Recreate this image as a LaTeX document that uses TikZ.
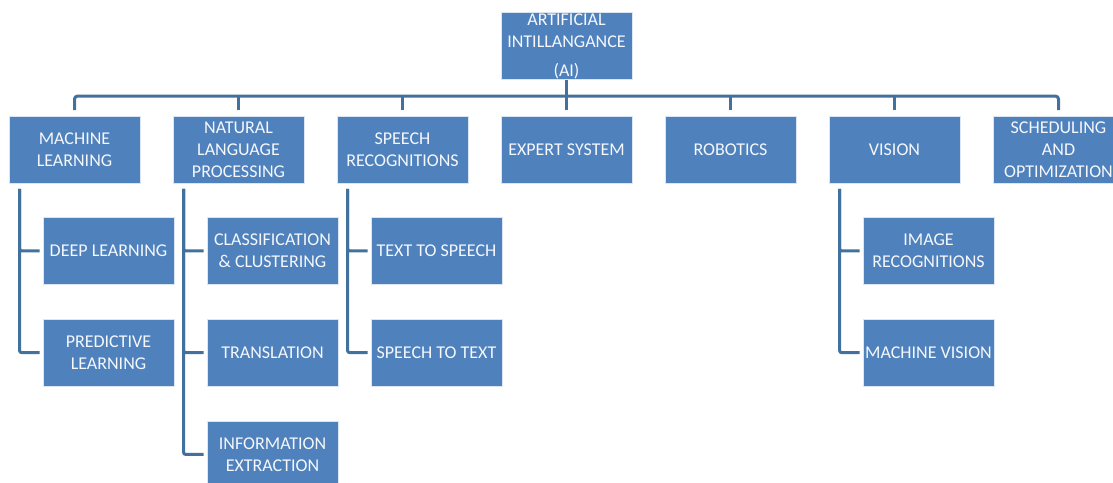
\documentclass[tikz,border=0pt]{standalone}
\usepackage{fontspec}
\setmainfont{Carlito}
\usetikzlibrary{positioning}
\definecolor{boxblue}{HTML}{4F81BD}
\definecolor{linkblue}{HTML}{41719C}
\begin{document}
\begin{tikzpicture}[x=1pt, y=1pt,
  box/.style={draw=white!80!boxblue, line width=0.8pt, fill=boxblue, text=white!94!boxblue, minimum width=131pt,
    minimum height=67pt, inner sep=0pt, align=center, font=\fontsize{18}{22}\selectfont},
  link/.style={draw=linkblue, line width=3pt}, node distance=32.2pt]
\useasboundingbox (0,0) rectangle (1113,-482);
\clip (0,0) rectangle (1113,-482);
% first level
\node[box] (ml) at (74.5,-150) {MACHINE\\LEARNING};
\node[box, right=of ml] (nlp) {NATURAL\\LANGUAGE\\PROCESSING};
\node[box, right=of nlp] (sr) {SPEECH\\RECOGNITIONS};
\node[box, right=of sr] (es) {EXPERT SYSTEM};
\node[box, right=of es] (rob) {ROBOTICS};
\node[box, right=of rob] (vis) {VISION};
\node[box, right=of vis] (sched) {SCHEDULING\\AND\\OPTIMIZATION};
\node[box, above=36pt of es] (ai) {ARTIFICIAL\\INTILLANGANCE\\[7pt](AI)};
% second level
\node[box, below right=33pt and 34pt of ml.south west] (deep) {DEEP LEARNING};
\node[box, below=34pt of deep] (pred) {PREDICTIVE\\LEARNING};
\node[box, below right=33pt and 34pt of nlp.south west] (cls) {CLASSIFICATION\\\& CLUSTERING};
\node[box, below=34pt of cls] (trans) {TRANSLATION};
\node[box, below=34pt of trans] (info) {INFORMATION\\EXTRACTION};
\node[box, below right=33pt and 34pt of sr.south west] (tts) {TEXT TO SPEECH};
\node[box, below=34pt of tts] (stt) {SPEECH TO TEXT};
\node[box, below right=33pt and 34pt of vis.south west] (img) {IMAGE\\RECOGNITIONS};
\node[box, below=34pt of img] (mv) {MACHINE VISION};
% bus under the root
\coordinate (bus) at ([yshift=-16pt]ai.south);
\draw[link] (ai.south) -- ([yshift=6pt]es.north);
\draw[link, rounded corners=3pt] ([yshift=6pt]ml.north) |- (bus) -| ([yshift=6pt]sched.north);
\foreach \n in {nlp,sr,rob,vis} \draw[link] (bus -| \n.north) -- ([yshift=6pt]\n.north);
% side branches
\foreach \p/\c in {ml/deep, ml/pred, nlp/cls, nlp/trans, nlp/info, sr/tts, sr/stt, vis/img, vis/mv}
  \draw[link, rounded corners=2pt] ([xshift=11pt,yshift=-5pt]\p.south west) |- ([xshift=-3pt]\c.west);
\end{tikzpicture}
\end{document}
